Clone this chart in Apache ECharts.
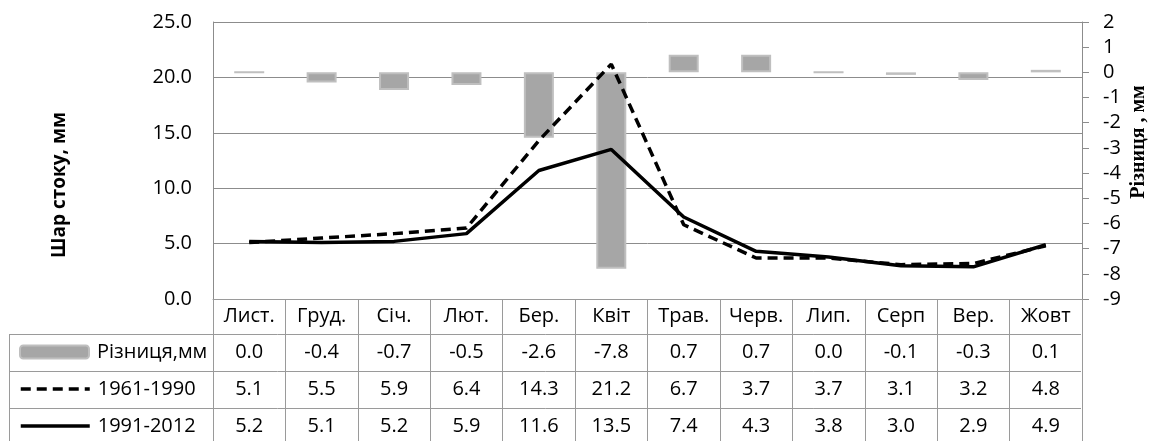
<!DOCTYPE html>
<html>
<head>
<meta charset="utf-8">
<script src="https://cdn.jsdelivr.net/npm/echarts@6/dist/echarts.min.js"></script>
<style>
html,body{margin:0;padding:0;background:#fff;}
#chart{width:1154px;height:441px;}
</style>
</head>
<body>
<div id="chart"></div>
<script>
const categories = ['Лист.', 'Груд.', 'Січ.', 'Лют.', 'Бер.', 'Квіт', 'Трав.', 'Черв.', 'Лип.', 'Серп', 'Вер.', 'Жовт'];
const diffValues = [0.0, -0.4, -0.7, -0.5, -2.6, -7.8, 0.7, 0.7, 0.0, -0.1, -0.3, 0.1];
const values1961 = [5.1, 5.5, 5.9, 6.4, 14.3, 21.2, 6.7, 3.7, 3.7, 3.1, 3.2, 4.8];
const values1991 = [5.2, 5.1, 5.2, 5.9, 11.6, 13.5, 7.4, 4.3, 3.8, 3.0, 2.9, 4.9];
const leftTicks = { min: 0, max: 25, interval: 5 };
const rightTicks = { min: -9, max: 2, interval: 1 };
const seriesNames = ['Різниця,мм', '1961-1990', '1991-2012'];
const leftTitle = 'Шар стоку, мм';
const rightTitle = 'Різниця , мм';

const FONT = '"Open Sans", "Noto Sans", sans-serif';
const GRID = '#8c8c8c';
const TABLE = '#9a9a9a';
const fmt = v => v.toFixed(1);

const chart = echarts.init(document.getElementById('chart'), null, { renderer: 'canvas' });

const rowY = [334, 371, 408];
const tableLines = rowY.map(y => ({
  type: 'line', silent: true,
  shape: { x1: 9.5, y1: y + 0.5, x2: 1081, y2: y + 0.5 },
  style: { stroke: TABLE, lineWidth: 1 }
}));
tableLines.push({
  type: 'line', silent: true,
  shape: { x1: 9.5, y1: 334, x2: 9.5, y2: 441 },
  style: { stroke: TABLE, lineWidth: 1 }
});

const legendBase = {
  orient: 'horizontal', left: 19, padding: 0, selectedMode: false,
  itemWidth: 69, itemHeight: 13,
  textStyle: { fontFamily: FONT, fontSize: 20, color: '#000', lineHeight: 20, padding: [0, 0, 0, 3] }
};
const lineLegendExtra = {
  itemStyle: { color: 'rgba(0,0,0,0)', borderColor: 'rgba(0,0,0,0)', borderWidth: 0 },
  lineStyle: { width: 3.5 }
};

chart.setOption({
  backgroundColor: '#fff',
  animation: false,
  textStyle: { fontFamily: FONT },
  grid: { left: 213, right: 72, top: 22, bottom: 142, containLabel: false },
  legend: [
    Object.assign({}, legendBase, { data: [seriesNames[0]], top: 342 }),
    Object.assign({}, legendBase, lineLegendExtra, { data: [seriesNames[1]], top: 379 }),
    Object.assign({}, legendBase, lineLegendExtra, { data: [seriesNames[2]], top: 416 })
  ],
  xAxis: {
    type: 'category',
    data: categories,
    boundaryGap: true,
    axisLine: { show: true, lineStyle: { color: TABLE, width: 1 } },
    axisTick: { show: true, interval: 0, length: 146, lineStyle: { color: TABLE, width: 1 } },
    axisLabel: {
      interval: 0, margin: 0, color: '#000', fontFamily: FONT, fontSize: 20,
      formatter: function (val, idx) {
        return '{c|' + val + '}\n{d|' + fmt(diffValues[idx]) + '}\n{d|' + fmt(values1961[idx]) + '}\n{d|' + fmt(values1991[idx]) + '}';
      },
      rich: {
        c: { fontFamily: FONT, fontSize: 20, lineHeight: 35, color: '#000' },
        d: { fontFamily: FONT, fontSize: 20, lineHeight: 37, color: '#000' }
      }
    },
    splitLine: { show: false }
  },
  yAxis: [
    {
      type: 'value', position: 'left',
      min: leftTicks.min, max: leftTicks.max, interval: leftTicks.interval,
      axisLine: { show: true, lineStyle: { color: GRID } },
      axisTick: { show: false },
      splitLine: { show: true, lineStyle: { color: GRID, width: 1 } },
      axisLabel: { margin: 21, color: '#000', fontFamily: FONT, fontSize: 20, formatter: v => v.toFixed(1) }
    },
    {
      type: 'value', position: 'right',
      min: rightTicks.min, max: rightTicks.max, interval: rightTicks.interval,
      axisLine: { show: true, lineStyle: { color: GRID } },
      axisTick: { show: true, length: 7, lineStyle: { color: GRID } },
      splitLine: { show: false },
      axisLabel: { margin: 21, color: '#000', fontFamily: FONT, fontSize: 20 }
    }
  ],
  series: [
    {
      name: seriesNames[0], type: 'bar', yAxisIndex: 1, data: diffValues,
      barWidth: 30,
      itemStyle: { color: '#a6a6a6', borderColor: '#bfbfbf', borderWidth: 2 },
      z: 2
    },
    {
      name: seriesNames[1], type: 'line', yAxisIndex: 0, data: values1961,
      symbol: 'none', z: 3,
      lineStyle: { color: '#000', width: 3.5, type: [10, 6] },
      itemStyle: { color: '#000' }
    },
    {
      name: seriesNames[2], type: 'line', yAxisIndex: 0, data: values1991,
      symbol: 'none', z: 4,
      lineStyle: { color: '#000', width: 3.5, type: 'solid' },
      itemStyle: { color: '#000' }
    }
  ],
  graphic: tableLines.concat([
    {
      type: 'text', silent: true, x: 60, y: 185, rotation: Math.PI / 2,
      style: { text: leftTitle, fontFamily: FONT, fontSize: 19, fontWeight: 'bold', fill: '#000', align: 'center', verticalAlign: 'middle' }
    },
    {
      type: 'text', silent: true, x: 1139, y: 142, rotation: Math.PI / 2,
      style: { text: rightTitle, fontFamily: '"Liberation Serif", "DejaVu Serif", serif', fontSize: 20, fontWeight: 'bold', fill: '#000', align: 'center', verticalAlign: 'middle' }
    }
  ])
});
</script>
</body>
</html>
